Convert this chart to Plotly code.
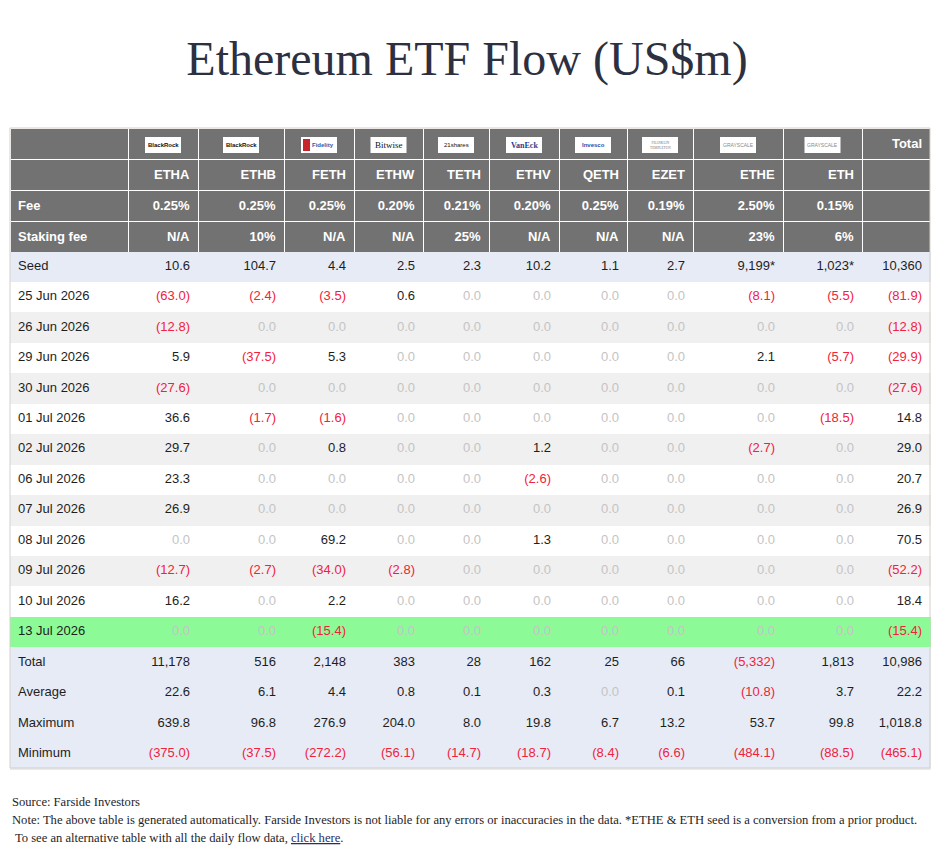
import plotly.graph_objects as go

# header info
logos = ["BlackRock", "BlackRock", "Fidelity", "Bitwise", "21shares", "VanEck",
         "Invesco", "FRANKLIN TEMPLETON", "GRAYSCALE", "GRAYSCALE"]
tickers = ["ETHA", "ETHB", "FETH", "ETHW", "TETH", "ETHV", "QETH", "EZET", "ETHE", "ETH"]
fees = ["0.25%", "0.25%", "0.25%", "0.20%", "0.21%", "0.20%", "0.25%", "0.19%", "2.50%", "0.15%"]
staking_fees = ["N/A", "10%", "N/A", "N/A", "25%", "N/A", "N/A", "N/A", "23%", "6%"]

dates = ["25 Jun 2026", "26 Jun 2026", "29 Jun 2026", "30 Jun 2026", "01 Jul 2026",
         "02 Jul 2026", "06 Jul 2026", "07 Jul 2026", "08 Jul 2026", "09 Jul 2026",
         "10 Jul 2026", "13 Jul 2026"]

# daily flows per fund (US$m)
etha = [-63.0, -12.8, 5.9, -27.6, 36.6, 29.7, 23.3, 26.9, 0.0, -12.7, 16.2, 0.0]
ethb = [-2.4, 0.0, -37.5, 0.0, -1.7, 0.0, 0.0, 0.0, 0.0, -2.7, 0.0, 0.0]
feth = [-3.5, 0.0, 5.3, 0.0, -1.6, 0.8, 0.0, 0.0, 69.2, -34.0, 2.2, -15.4]
ethw = [0.6, 0.0, 0.0, 0.0, 0.0, 0.0, 0.0, 0.0, 0.0, -2.8, 0.0, 0.0]
teth = [0.0, 0.0, 0.0, 0.0, 0.0, 0.0, 0.0, 0.0, 0.0, 0.0, 0.0, 0.0]
ethv = [0.0, 0.0, 0.0, 0.0, 0.0, 1.2, -2.6, 0.0, 1.3, 0.0, 0.0, 0.0]
qeth = [0.0, 0.0, 0.0, 0.0, 0.0, 0.0, 0.0, 0.0, 0.0, 0.0, 0.0, 0.0]
ezet = [0.0, 0.0, 0.0, 0.0, 0.0, 0.0, 0.0, 0.0, 0.0, 0.0, 0.0, 0.0]
ethe = [-8.1, 0.0, 2.1, 0.0, 0.0, -2.7, 0.0, 0.0, 0.0, 0.0, 0.0, 0.0]
eth = [-5.5, 0.0, -5.7, 0.0, -18.5, 0.0, 0.0, 0.0, 0.0, 0.0, 0.0, 0.0]
day_total = [-81.9, -12.8, -29.9, -27.6, 14.8, 29.0, 20.7, 26.9, 70.5, -52.2, 18.4, -15.4]

# summary rows (10 funds + total)
seed = [10.6, 104.7, 4.4, 2.5, 2.3, 10.2, 1.1, 2.7, 9199, 1023, 10360]
seed_note = ["", "", "", "", "", "", "", "", "*", "*", ""]
totals = [11178, 516, 2148, 383, 28, 162, 25, 66, -5332, 1813, 10986]
averages = [22.6, 6.1, 4.4, 0.8, 0.1, 0.3, 0.0, 0.1, -10.8, 3.7, 22.2]
maximums = [639.8, 96.8, 276.9, 204.0, 8.0, 19.8, 6.7, 13.2, 53.7, 99.8, 1018.8]
minimums = [-375.0, -37.5, -272.2, -56.1, -14.7, -18.7, -8.4, -6.6, -484.1, -88.5, -465.1]

fund_flows = [etha, ethb, feth, ethw, teth, ethv, qeth, ezet, ethe, eth, day_total]

# page has an 8px body margin, so the figure is drawn 8px smaller and
# all page positions below are shifted by OFF
OFF = 8
W, H = 940 - OFF, 859 - OFF
col_px = [118, 70, 86, 70, 69, 66, 70, 68, 66, 90, 79, 68]
x0, x1 = 10, 930
top, bottom, head_h, row_h = 128, 768, 31, 30.45

HEAD = "#727272"
BLUE = "#e6ebf6"
GREY = "#f0f0f0"
GREEN = "#8cfb97"
RED = "#f2213d"
ZERO = "#c4c4c4"
INK = "#1e1e1e"


def px_x(v):
    return (v - OFF) / W


def px_y(v):
    return 1 - (v - OFF) / H


def fmt(v, dec=1):
    s = "{:,.{d}f}".format(abs(v), d=dec)
    return "(" + s + ")" if v < 0 else s


def colour(v):
    if v < 0:
        return RED
    if v == 0:
        return ZERO
    return INK


row_fill = [HEAD, HEAD, HEAD, BLUE]
for i in range(len(dates)):
    row_fill.append("#ffffff" if i % 2 == 0 else GREY)
row_fill[-1] = GREEN
row_fill += [BLUE] * 4
nrows = len(row_fill)

labels = ["", "<b>Fee</b>", "<b>Staking fee</b>", "Seed"] + dates + ["Total", "Average", "Maximum", "Minimum"]
values = [labels]
fcols = [["#ffffff"] * 3 + [INK] * (nrows - 3)]
for j in range(11):
    if j < 10:
        head = ["<b>" + tickers[j] + "</b>", "<b>" + fees[j] + "</b>", "<b>" + staking_fees[j] + "</b>"]
    else:
        head = ["", "", ""]
    sd = seed[j]
    col = head + [fmt(sd, 0 if sd >= 1000 else 1) + seed_note[j]]
    fc = ["#ffffff"] * 3 + [INK]
    for v in fund_flows[j]:
        col.append(fmt(v))
        fc.append(colour(v))
    for v, d in [(totals[j], 0), (averages[j], 1), (maximums[j], 1), (minimums[j], 1)]:
        col.append(fmt(v, d))
        fc.append(colour(v))
    values.append(col)
    fcols.append(fc)

fills = [row_fill] * 12
lines = [["#ffffff"] * 3 + row_fill[3:]] * 12

fig = go.Figure(go.Table(
    domain=dict(x=[px_x(x0), px_x(x1)], y=[0.0, px_y(top)]),
    columnwidth=col_px,
    header=dict(values=[""] * 11 + ["<b>Total</b>"], fill_color=HEAD,
                line=dict(color="#ffffff", width=1), height=head_h,
                align=["left"] + ["right"] * 11,
                font=dict(family="Liberation Sans, Arial", size=13, color="#ffffff")),
    cells=dict(values=values, fill_color=fills, line=dict(color=lines, width=1),
               height=row_h, align=["left"] + ["right"] * 11,
               font=dict(family="Liberation Sans, Arial", size=13, color=fcols)),
))

shapes = []
annotations = []

# logo boxes in the first header row
edges = [x0]
for w in col_px:
    edges.append(edges[-1] + w)
logo_style = {
    "BlackRock": dict(color="#111111", size=6, family="Liberation Sans", bold=True),
    "Fidelity": dict(color="#2a5caa", size=6, family="Liberation Sans", bold=True),
    "Bitwise": dict(color="#111111", size=9, family="Liberation Serif", bold=False),
    "21shares": dict(color="#111111", size=6, family="Liberation Sans", bold=False),
    "VanEck": dict(color="#1d3f8f", size=8, family="Liberation Serif", bold=True),
    "Invesco": dict(color="#1f4fa8", size=6, family="Liberation Sans", bold=True),
    "FRANKLIN TEMPLETON": dict(color="#777777", size=3.5, family="Liberation Serif", bold=False),
    "GRAYSCALE": dict(color="#888888", size=5, family="Liberation Sans", bold=False),
}
logo_cy = top + 17
for j, name in enumerate(logos):
    cx = (edges[j + 1] + edges[j + 2]) / 2
    shapes.append(dict(type="rect", xref="paper", yref="paper",
                       x0=px_x(cx - 18), x1=px_x(cx + 18),
                       y0=px_y(logo_cy - 8), y1=px_y(logo_cy + 8),
                       fillcolor="#ffffff", line=dict(width=0)))
    st = logo_style[name]
    txt = "<b>" + name + "</b>" if st["bold"] else name
    if name == "FRANKLIN TEMPLETON":
        txt = "FRANKLIN<br>TEMPLETON"
    xoff = 0
    if name == "Fidelity":
        shapes.append(dict(type="rect", xref="paper", yref="paper",
                           x0=px_x(cx - 16), x1=px_x(cx - 9),
                           y0=px_y(logo_cy - 6), y1=px_y(logo_cy + 6),
                           fillcolor="#c8242b", line=dict(width=0)))
        xoff = 4
    annotations.append(dict(x=px_x(cx + xoff), y=px_y(logo_cy), xref="paper", yref="paper",
                            text=txt, showarrow=False, xanchor="center", yanchor="middle",
                            font=dict(color=st["color"], size=st["size"], family=st["family"])))

# outer border of the table
shapes.append(dict(type="rect", xref="paper", yref="paper",
                   x0=px_x(x0), x1=px_x(x1), y0=px_y(bottom), y1=px_y(top),
                   line=dict(color="#d5cfc9", width=1), fillcolor="rgba(0,0,0,0)"))

notes = [
    "Source: Farside Investors",
    "Note: The above table is generated automatically. Farside Investors is not liable for any errors or inaccuracies in the data. *ETHE &amp; ETH seed is a conversion from a prior product.",
    " To see an alternative table with all the daily flow data, <span style='color:#2a2f5e'><u>click here</u></span>.",
]
for k, t in enumerate(notes):
    annotations.append(dict(x=px_x(10), y=px_y(802 + 18 * k), xref="paper", yref="paper",
                            text=t, showarrow=False, xanchor="left", yanchor="middle",
                            font=dict(family="Liberation Serif", size=12.6, color="#1e1e1e")))

fig.update_layout(
    width=W, height=H,
    margin=dict(l=0, r=0, t=0, b=0),
    paper_bgcolor="#ffffff",
    title=dict(text="Ethereum ETF Flow (US$m)", x=px_x(467), xanchor="center",
               y=px_y(58), yanchor="middle",
               font=dict(family="Liberation Serif, Times New Roman", size=48, color="#2c3040")),
    shapes=shapes,
    annotations=annotations,
)

fig.write_html("out.html")
